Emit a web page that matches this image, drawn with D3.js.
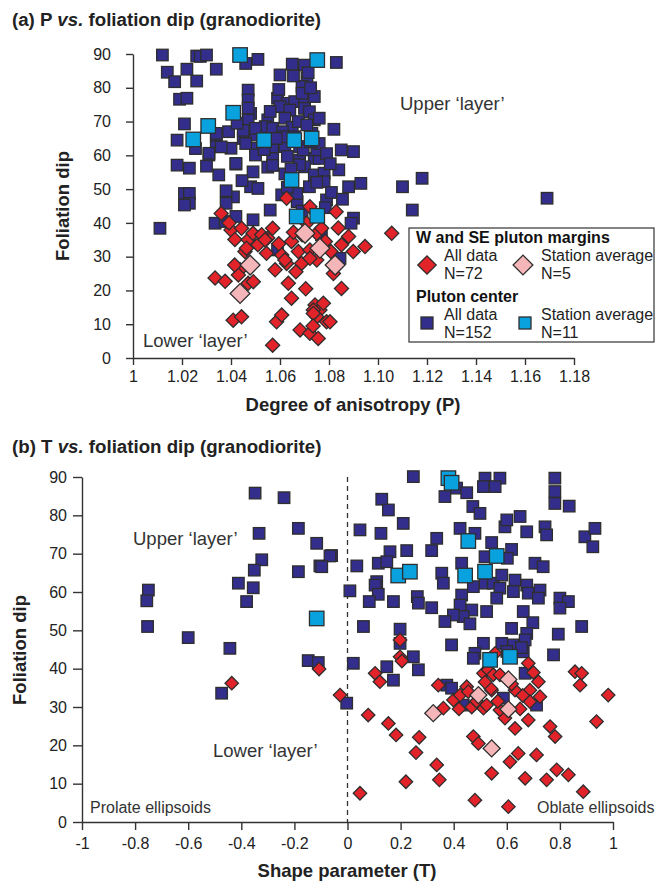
<!DOCTYPE html>
<html><head><meta charset="utf-8">
<script src="https://cdn.jsdelivr.net/npm/d3@7"></script>
<style>
html,body{margin:0;padding:0;background:#fff;}
svg{display:block;font-family:"Liberation Sans",Arial,Helvetica,sans-serif;}
</style></head>
<body>
<script>
// ---------- DATA ----------
// Panel (a): [P, foliation dip]
const aCenterAll = [[1.012,89.7],[1.014,84.6],[1.017,81.8],[1.022,85.5],[1.026,89.4],[1.0275,89.3],[1.030,89.7],[1.034,85.5],[1.026,82],[1.019,76.6],[1.022,76.9],[1.051,88.4],[1.046,87.2],[1.060,83.8],[1.065,87],[1.070,86.7],[1.083,87.5],[1.071,82.9],[1.069,80.4],[1.047,79.3],[1.047,76.4],[1.059,76.9],[1.063,75.4],[1.066,75.9],[1.070,76.4],[1.074,77.4],[1.060,74.4],[1.064,73.4],[1.070,73.9],[1.072,72.9],[1.048,72.4],[1.047,70.5],[1.055,70.5],[1.062,71],[1.065,68.3],[1.074,70.5],[1.076,71],[1.021,69.3],[1.018,64.5],[1.034,65.6],[1.039,67],[1.045,65],[1.082,67.7],[1.034,62.6],[1.040,62.1],[1.050,62.1],[1.057,62.1],[1.062,62.6],[1.068,62.6],[1.085,61.6],[1.090,61.1],[1.031,60.1],[1.050,60.1],[1.057,59.1],[1.063,59.7],[1.068,58.6],[1.074,59.1],[1.076,59.1],[1.018,57.1],[1.023,56.2],[1.030,56.8],[1.042,57.4],[1.035,54.2],[1.049,55.1],[1.048,50.7],[1.051,50.2],[1.070,56.6],[1.074,54.2],[1.078,54.7],[1.078,52.2],[1.084,55.7],[1.088,50.7],[1.093,51.7],[1.072,50.7],[1.021,48.7],[1.023,48.7],[1.023,45.8],[1.041,47.7],[1.038,45.8],[1.056,43.8],[1.067,46.3],[1.079,46.8],[1.011,38.4],[1.021,45.3],[1.0335,39.9],[1.0376,40.4],[1.042,41.9],[1.049,40.9],[1.059,32],[1.0845,29.5],[1.110,50.7],[1.118,53.2],[1.114,43.8],[1.169,47.3],[1.090,41.4],[1.089,39.9],[1.054,68.5],[1.057,68],[1.045,67.4],[1.050,66],[1.061,67],[1.046,63.5],[1.0695,61.6],[1.075,61.6],[1.068,57.2],[1.034,66.5],[1.036,62.5],[1.031,60.6],[1.042,57.6],[1.050,68],[1.047,74],[1.069,78.4],[1.0607,48.3],[1.0668,48.7],[1.0615,65.5],[1.073,66.5],[1.066,65.5],[1.0535,61.7],[1.0585,65],[1.0675,70],[1.071,69],[1.076,63.5],[1.079,60.5],[1.055,56.5],[1.062,54.5],[1.075,52],[1.063,50.5],[1.081,49],[1.0785,44.5],[1.0769,36.5],[1.0655,83.5],[1.0715,84.5],[1.0725,80],[1.0595,79.5],[1.056,73],[1.053,64],[1.0725,64],[1.057,57],[1.0645,56],[1.0805,57.5],[1.0445,52.5],[1.038,49.5],[1.0855,47],[1.069,43.5],[1.0255,62],[1.0425,69.5]];
const aCenterAvg = [[1.0437,89.7],[1.0752,88.2],[1.0409,72.6],[1.0307,68.7],[1.0246,64.7],[1.0535,64.5],[1.0658,64.5],[1.0729,65],[1.0647,52.7],[1.0668,41.9],[1.0752,42.1]];
const aMarginAll = [[1.036,42.8],[1.040,37.9],[1.0416,35.1],[1.0443,38.4],[1.047,35],[1.049,36.9],[1.0457,31.5],[1.051,33.5],[1.055,35.5],[1.057,38.4],[1.0627,47.3],[1.0647,34.5],[1.0675,31.5],[1.0607,30.5],[1.0627,28],[1.058,26.1],[1.0437,26.1],[1.043,24.6],[1.047,22.1],[1.0335,23.7],[1.0376,22.7],[1.0634,22.1],[1.0647,17.7],[1.0409,11.2],[1.0443,12.2],[1.0586,10.7],[1.0607,12.7],[1.057,3.8],[1.0682,8.3],[1.0722,7.3],[1.0756,5.8],[1.0743,15.7],[1.0763,14.2],[1.0736,14.2],[1.075,12.2],[1.0777,16.2],[1.079,10.7],[1.0722,44.8],[1.0709,39.9],[1.075,36.9],[1.077,38.4],[1.069,36.5],[1.0722,32],[1.075,29],[1.0818,25],[1.0851,20.6],[1.0829,43.3],[1.088,36],[1.0899,31.5],[1.0851,33.5],[1.0808,31.5],[1.0947,33],[1.1056,36.9],[1.0525,36.5],[1.0539,35],[1.062,29],[1.0688,28],[1.0722,29.5],[1.0491,22.6],[1.0804,10.7],[1.0736,13.2],[1.0463,32.5],[1.0392,40],[1.0655,37.2],[1.0595,33.8],[1.0545,31],[1.0785,34.5],[1.0838,38.5],[1.0705,20.5],[1.0415,27.5],[1.0735,9.5],[1.0665,25.5]];
const aMarginAvg = [[1.0478,27.5],[1.0437,19.1],[1.0702,36.9],[1.0763,32.5],[1.0825,27.5]];

// Panel (b): [T, foliation dip]
const bCenterAll = [[-0.750,60.5],[-0.756,57.7],[-0.753,51],[-0.600,48.1],[-0.443,45.3],[-0.348,85.8],[-0.239,84.6],[-0.333,75.3],[-0.323,68.4],[-0.351,65.7],[-0.411,62.3],[-0.355,61.1],[-0.380,57.5],[-0.185,76.6],[-0.116,72.7],[-0.060,69.5],[-0.104,66.8],[-0.185,65.3],[-0.474,33.6],[-0.148,42.1],[-0.110,41.6],[0.248,90.1],[0.367,84.9],[0.411,87.1],[0.449,85.9],[0.518,89.7],[0.574,89.7],[0.512,87.5],[0.556,87.5],[0.781,89.7],[0.781,86.2],[0.781,83.1],[0.835,82.4],[0.129,84.2],[0.154,81.4],[0.472,82.3],[0.499,80.5],[0.210,77.9],[0.047,76.2],[0.126,75.3],[0.336,74],[0.317,70.8],[0.223,70.8],[0.160,70.5],[0.424,76.6],[0.480,75.3],[0.543,72.9],[0.593,77],[0.600,78.8],[0.650,79.7],[0.675,75.7],[0.744,77],[0.750,74.9],[0.894,74.4],[0.932,76.6],[0.924,71.8],[0.618,71.1],[0.518,69.2],[0.602,68.8],[0.035,66.8],[0.116,67.5],[0.148,67.9],[0.110,62.7],[0.104,61.8],[0.116,59.4],[0.082,57.5],[0.009,60.3],[0.173,57.5],[0.263,58.8],[0.267,57.1],[0.317,55.9],[0.355,64.9],[0.361,62.3],[0.430,67.5],[0.518,62.3],[0.549,62.3],[0.474,61.4],[0.581,64.4],[0.631,63.1],[0.574,61],[0.625,60.1],[0.675,61.8],[0.681,59.7],[0.706,67.5],[0.737,66.6],[0.725,60.5],[0.719,58.4],[0.430,59.2],[0.424,56.6],[0.468,55.3],[0.436,53.6],[0.399,54],[0.367,52.3],[0.461,51.7],[0.524,54.9],[0.562,58.4],[0.662,54.9],[0.698,52],[0.800,58.4],[0.832,57.5],[0.800,55.8],[0.794,49],[0.882,51],[0.618,50.5],[0.675,49.2],[0.060,51],[0.198,50.3],[0.198,46.6],[0.392,46.2],[0.512,46.6],[0.581,46.6],[0.625,46.2],[0.669,47.5],[-0.066,69.4],[-0.097,66.6],[0.776,43.6],[0.248,43.1],[0.267,39.7],[0.148,40.5],[0.173,37],[0.480,44],[0.474,42.7],[0.662,44.4],[0.669,38.8],[0.374,35.7],[0.392,34.9],[0.587,32.3],[0.022,41.4],[-0.003,31],[0.436,30.5],[0.712,30.5],[0.655,45.5],[0.600,44.5]];
const bCenterAvg = [[-0.116,53.1],[0.380,89.7],[0.392,88.5],[0.455,73.3],[0.191,64.3],[0.235,65.3],[0.443,64.3],[0.518,65.3],[0.562,69.4],[0.537,42.3],[0.612,43.1]];
const bMarginAll = [[-0.436,36.2],[-0.107,39.9],[-0.028,33.1],[0.078,27.9],[0.047,7.5],[0.104,38.8],[0.122,36.6],[0.198,43.1],[0.198,47.5],[0.154,25.7],[0.183,22.7],[0.270,22.1],[0.258,18.1],[0.220,10.5],[0.336,14.9],[0.346,11],[0.342,35.7],[0.361,29.7],[0.399,31.8],[0.424,33.1],[0.449,35.3],[0.480,31],[0.512,29.7],[0.512,38.8],[0.530,39.7],[0.549,38.4],[0.543,34.4],[0.574,38.4],[0.631,34.4],[0.681,41.4],[0.687,34.4],[0.719,36.6],[0.687,31.4],[0.725,32.7],[0.574,29.2],[0.593,27.1],[0.681,26.6],[0.631,24.4],[0.474,22.3],[0.493,20.5],[0.643,17.9],[0.612,15.7],[0.712,17.5],[0.543,12.7],[0.669,11.4],[0.750,11],[0.788,13.6],[0.832,12.3],[0.480,5.7],[0.606,4],[0.888,7.9],[0.763,24.9],[0.782,22.3],[0.857,39.2],[0.882,38.8],[0.876,35.7],[0.982,33.1],[0.938,26.2],[0.205,42],[0.556,44],[0.455,34],[0.468,30],[0.486,31.5],[0.524,30.5],[0.540,34.8],[0.518,36.5],[0.618,36],[0.660,33],[0.700,39],[0.420,29.5],[0.566,31.5],[0.650,29.5]];
const bMarginAvg = [[0.323,28.4],[0.493,33.1],[0.606,37.2],[0.606,29.4],[0.543,19.2]];

const aXTicks = [1,1.02,1.04,1.06,1.08,1.10,1.12,1.14,1.16,1.18];
const aXTickLabels = ["1","1.02","1.04","1.06","1.08","1.10","1.12","1.14","1.16","1.18"];
const bXTicks = [-1,-0.8,-0.6,-0.4,-0.2,0,0.2,0.4,0.6,0.8,1];
const bXTickLabels = ["-1","-0.8","-0.6","-0.4","-0.2","0","0.2","0.4","0.6","0.8","1"];
const yTicks = [0,10,20,30,40,50,60,70,80,90];

// ---------- STYLE ----------
const C = {dark:"#332e8b", light:"#0aa2de", red:"#e2232a", pink:"#f5b6b9", edge:"#2e2e2e", axis:"#333"};

const svg = d3.select("body").append("svg").attr("width",655).attr("height",881);

function title(x,y,label,letter){
  const t = svg.append("text").attr("x",x).attr("y",y).attr("font-size",18.7).attr("font-weight","bold").attr("fill","#222");
  t.append("tspan").text("("+letter+") "+label+" ");
  t.append("tspan").attr("font-style","italic").text("vs.");
  t.append("tspan").text(" foliation dip (granodiorite)");
}

function square(g,data,x,y,size,fill){
  g.selectAll(null).data(data).enter().append("rect")
    .attr("x",d=>x(d[0])-size/2).attr("y",d=>y(d[1])-size/2)
    .attr("width",size).attr("height",size)
    .attr("fill",fill).attr("stroke",C.edge).attr("stroke-width",1.3);
}
function diamond(g,data,x,y,side,fill){
  g.selectAll(null).data(data).enter().append("rect")
    .attr("x",-side/2).attr("y",-side/2).attr("width",side).attr("height",side)
    .attr("transform",d=>`translate(${x(d[0])},${y(d[1])}) rotate(45)`)
    .attr("fill",fill).attr("stroke",C.edge).attr("stroke-width",1.3);
}
function styleAxis(g){
  g.select(".domain").attr("stroke",C.axis).attr("stroke-width",1.4);
  g.selectAll(".tick line").attr("stroke",C.axis).attr("stroke-width",1.4);
  g.selectAll(".tick text").attr("font-size",16).attr("fill","#222").attr("font-family","Liberation Sans, Arial, sans-serif");
}

// ---------- PANEL A ----------
title(12,26,"P","a");
const xa = d3.scaleLinear().domain([1,1.18]).range([133,574]);
const ya = d3.scaleLinear().domain([0,90]).range([358,54]);

const gaX = svg.append("g").attr("transform","translate(0,358)")
  .call(d3.axisBottom(xa).tickValues(aXTicks).tickFormat((d,i)=>aXTickLabels[i]).tickSize(7).tickSizeOuter(0).tickPadding(6));
styleAxis(gaX);
const gaY = svg.append("g").attr("transform","translate(133,0)")
  .call(d3.axisLeft(ya).tickValues(yTicks).tickSize(7).tickSizeOuter(0).tickPadding(15));
styleAxis(gaY);

const pa = svg.append("g");
square(pa,aCenterAll,xa,ya,11.5,C.dark);
diamond(pa,aMarginAll,xa,ya,10,C.red);
square(pa,aCenterAvg,xa,ya,14.5,C.light);
diamond(pa,aMarginAvg,xa,ya,14,C.pink);

svg.append("text").attr("x",400).attr("y",110).attr("font-size",18.5).attr("fill","#333").text("Upper \u2018layer\u2019");
svg.append("text").attr("x",143).attr("y",347).attr("font-size",18.5).attr("fill","#333").text("Lower \u2018layer\u2019");
svg.append("text").attr("x",353).attr("y",411).attr("text-anchor","middle").attr("font-size",18.5).attr("font-weight","bold").attr("fill","#222").text("Degree of anisotropy (P)");
svg.append("text").attr("transform","translate(69,206) rotate(-90)").attr("text-anchor","middle").attr("font-size",18.5).attr("font-weight","bold").attr("fill","#222").text("Foliation dip");

// legend
const lg = svg.append("g");
lg.append("rect").attr("x",409).attr("y",228).attr("width",245).attr("height",114).attr("fill","#fff").attr("stroke","#333").attr("stroke-width",1.2);
lg.append("text").attr("x",416).attr("y",243).attr("font-size",16).attr("font-weight","bold").attr("fill","#111").text("W and SE pluton margins");
lg.append("text").attr("x",416).attr("y",302).attr("font-size",16).attr("font-weight","bold").attr("fill","#111").text("Pluton center");
const legItems = [
  {kind:"d",fill:C.red,side:13,cx:427,cy:265,tx:444,t1:"All data",t2:"N=72",by:261},
  {kind:"d",fill:C.pink,side:14,cx:523,cy:265,tx:541,t1:"Station average",t2:"N=5",by:261},
  {kind:"s",fill:C.dark,side:12,cx:427,cy:323,tx:444,t1:"All data",t2:"N=152",by:320},
  {kind:"s",fill:C.light,side:12,cx:525,cy:323,tx:541,t1:"Station average",t2:"N=11",by:320}
];
legItems.forEach(it=>{
  lg.append("rect").attr("x",-it.side/2).attr("y",-it.side/2).attr("width",it.side).attr("height",it.side)
    .attr("fill",it.fill).attr("stroke",C.edge).attr("stroke-width",1.3)
    .attr("transform",`translate(${it.cx},${it.cy})`+(it.kind==="d"?" rotate(45)":""));
  lg.append("text").attr("x",it.tx).attr("y",it.by).attr("font-size",16).attr("fill","#222").text(it.t1);
  lg.append("text").attr("x",it.tx).attr("y",it.by+18).attr("font-size",16).attr("fill","#222").text(it.t2);
});

// ---------- PANEL B ----------
title(12,453,"T","b");
const xb = d3.scaleLinear().domain([-1,1]).range([82,613]);
const yb = d3.scaleLinear().domain([0,90]).range([822,477]);

svg.append("line").attr("x1",xb(0)).attr("x2",xb(0)).attr("y1",yb(90)).attr("y2",yb(0))
  .attr("stroke","#333").attr("stroke-width",1.3).attr("stroke-dasharray","5,4");

const gbX = svg.append("g").attr("transform","translate(0,822)")
  .call(d3.axisBottom(xb).tickValues(bXTicks).tickFormat((d,i)=>bXTickLabels[i]).tickSize(8).tickSizeOuter(0).tickPadding(8));
styleAxis(gbX);
const gbY = svg.append("g").attr("transform","translate(82,0)")
  .call(d3.axisLeft(yb).tickValues(yTicks).tickSize(9).tickSizeOuter(0).tickPadding(6));
styleAxis(gbY);

const pb = svg.append("g");
square(pb,bCenterAll,xb,yb,11.5,C.dark);
diamond(pb,bMarginAll,xb,yb,9.5,C.red);
square(pb,bCenterAvg,xb,yb,14.5,C.light);
diamond(pb,bMarginAvg,xb,yb,12,C.pink);

svg.append("text").attr("x",133).attr("y",545).attr("font-size",18.5).attr("fill","#333").text("Upper \u2018layer\u2019");
svg.append("text").attr("x",213).attr("y",757).attr("font-size",18.5).attr("fill","#333").text("Lower \u2018layer\u2019");
svg.append("text").attr("x",90).attr("y",813).attr("font-size",16).attr("fill","#333").text("Prolate ellipsoids");
svg.append("text").attr("x",537).attr("y",813).attr("font-size",16).attr("fill","#333").text("Oblate ellipsoids");
svg.append("text").attr("x",347).attr("y",877).attr("text-anchor","middle").attr("font-size",18.5).attr("font-weight","bold").attr("fill","#222").text("Shape parameter (T)");
svg.append("text").attr("transform","translate(26,650) rotate(-90)").attr("text-anchor","middle").attr("font-size",18.5).attr("font-weight","bold").attr("fill","#222").text("Foliation dip");
</script>
</body></html>
